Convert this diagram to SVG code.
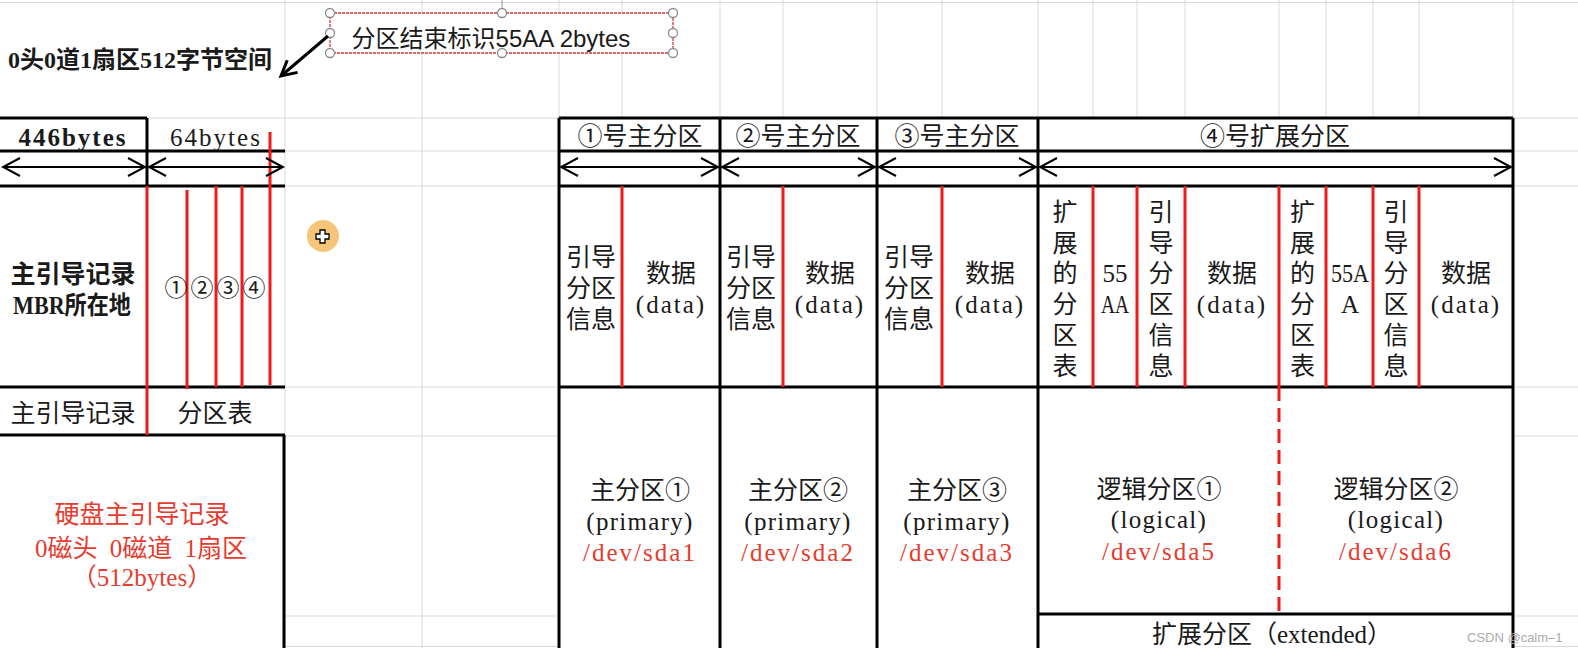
<svg xmlns="http://www.w3.org/2000/svg" width="1578" height="648" viewBox="0 0 1578 648">
<style>
.g{stroke:#d9d9d9;stroke-width:1;fill:none}
.k{stroke:#000;stroke-width:3;fill:none}
.r{stroke:#ee1b1b;stroke-width:3;fill:none}
.a{stroke:#000;stroke-width:2;fill:none}
.t{font-family:'Liberation Serif','Noto Sans CJK SC',serif;font-size:25px;fill:#1a1a1a;text-anchor:middle;dominant-baseline:central}
.red{fill:#e63b2e}
.b{font-weight:bold}
.ls{letter-spacing:2px}
</style>
<defs>
<marker id="ah" viewBox="0 -10 20 20" refX="18" refY="0" markerWidth="20" markerHeight="20" markerUnits="userSpaceOnUse" orient="auto-start-reverse">
<path d="M1,-9 L18,0 L1,9" fill="none" stroke="#000" stroke-width="2"/>
</marker>
<marker id="ah2" viewBox="0 -10 20 20" refX="17" refY="0" markerWidth="20" markerHeight="20" markerUnits="userSpaceOnUse" orient="auto">
<path d="M2,-8 L17,0 L2,8" fill="none" stroke="#000" stroke-width="3"/>
</marker>
</defs>
<rect width="1578" height="648" fill="#fff"/>
<g id="grid">
<path class="g" d="M0,2.5H1578M0,118H1578M0,151H1578M0,186H1578M0,387H1578M0,436H1578M0,616H1578M0,646.5H1578"/>
<path class="g" d="M285,0V648M422,0V648M559,0V648M622,0V648M720,0V648M783,0V648M877,0V648M942,0V648M1038,0V648M1093,0V648M1137,0V648M1185,0V648M1279,0V648M1326,0V648M1373,0V648M1419,0V648M1513,0V648"/>
<rect x="0" y="4" width="284" height="113" fill="#fff"/>
<rect x="0" y="119" width="284" height="529" fill="#fff"/>
<rect x="560" y="119" width="952" height="529" fill="#fff"/>
</g>
<g id="callout">
<line x1="502" y1="0" x2="502" y2="9" stroke="#999" stroke-width="1"/>
<rect x="330" y="13" width="343" height="40" fill="#fff" stroke="#d03a3a" stroke-width="1.3" stroke-dasharray="3 1"/>
<g fill="#fff" stroke="#8c8c8c" stroke-width="1.3">
<circle cx="330" cy="13" r="4.5"/><circle cx="502" cy="13" r="4.5"/><circle cx="673" cy="13" r="4.5"/>
<circle cx="330" cy="33" r="4.5"/><circle cx="673" cy="33" r="4.5"/>
<circle cx="330" cy="53" r="4.5"/><circle cx="502" cy="53" r="4.5"/><circle cx="673" cy="53" r="4.5"/>
</g>
<text x="491" y="38" class="t" style="font-family:'Liberation Sans','Noto Sans CJK SC',sans-serif;font-size:24px">分区结束标识55AA 2bytes</text>
</g>
<g id="title">
<text x="140" y="60" class="t b" style="font-size:24px">0头0道1扇区512字节空间</text>
</g>
<g id="mbr">
<path class="k" d="M0,118H147M0,151H285M0,186H285M0,387H285M0,435H285M147,118V186M284,435V648"/>
<path class="r" d="M147,186V435M187,190V389M216,186V387M242,186V387M270,132V385"/>
<text x="73" y="137" class="t b ls">446bytes</text>
<text x="216" y="137" class="t ls">64bytes</text>
<text x="73" y="274" class="t b">主引导记录</text>
<text x="72" y="305" class="t b" textLength="118" lengthAdjust="spacingAndGlyphs">MBR所在地</text>
<text x="176" y="288" class="t" style="font-size:23px">①</text>
<text x="202" y="288" class="t" style="font-size:23px">②</text>
<text x="228" y="288" class="t" style="font-size:23px">③</text>
<text x="254" y="288" class="t" style="font-size:23px">④</text>
<text x="73" y="413" class="t">主引导记录</text>
<text x="215" y="413" class="t">分区表</text>
<text x="142" y="514" class="t red">硬盘主引导记录</text>
<text x="141" y="548" class="t red" style="word-spacing:6px">0磁头 0磁道 1扇区</text>
<text x="142" y="577" class="t red">（512bytes）</text>
</g>
<g id="cursor">
<circle cx="323" cy="236" r="16" fill="#f7c57a"/>
<path d="M320,230h5v4h4v5h-4v4h-5v-4h-4v-5h4z" fill="#fff" stroke="#000" stroke-width="1.3"/>
</g>
<g id="table-frame">
<path class="k" d="M559,118H1513M559,151H1513M559,186H1513M559,387H1513M1038,614H1513M559,118V648M720,118V648M877,118V648M1038,118V648M1513,118V648"/>
</g>
<g id="primary1">
<path class="r" d="M622,186V387"/>
<text x="640" y="136" class="t">①号主分区</text>
<text x="591" y="257" class="t">引导</text>
<text x="591" y="288" class="t">分区</text>
<text x="591" y="319" class="t">信息</text>
<text x="671" y="273" class="t">数据</text>
<text x="671" y="304" class="t ls">(data)</text>
<text x="640" y="490" class="t">主分区①</text>
<text x="640" y="521" class="t" style="letter-spacing:1.3px">(primary)</text>
<text x="640" y="552" class="t red ls">/dev/sda1</text>
</g>
<g id="primary2">
<path class="r" d="M783,186V387"/>
<text x="798" y="136" class="t">②号主分区</text>
<text x="751" y="257" class="t">引导</text>
<text x="751" y="288" class="t">分区</text>
<text x="751" y="319" class="t">信息</text>
<text x="830" y="273" class="t">数据</text>
<text x="830" y="304" class="t ls">(data)</text>
<text x="798" y="490" class="t">主分区②</text>
<text x="798" y="521" class="t" style="letter-spacing:1.3px">(primary)</text>
<text x="798" y="552" class="t red ls">/dev/sda2</text>
</g>
<g id="primary3">
<path class="r" d="M942,186V387"/>
<text x="957" y="136" class="t">③号主分区</text>
<text x="909" y="257" class="t">引导</text>
<text x="909" y="288" class="t">分区</text>
<text x="909" y="319" class="t">信息</text>
<text x="990" y="273" class="t">数据</text>
<text x="990" y="304" class="t ls">(data)</text>
<text x="957" y="490" class="t">主分区③</text>
<text x="957" y="521" class="t" style="letter-spacing:1.3px">(primary)</text>
<text x="957" y="552" class="t red ls">/dev/sda3</text>
</g>
<g id="extended">
<path class="r" d="M1093,186V387M1137,186V387M1185,186V387M1279,186V387M1326,186V387M1373,186V387M1419,186V387"/>
<path class="r" d="M1279,387V612" stroke-dasharray="14 7"/>
<text x="1275" y="136" class="t">④号扩展分区</text>
<g class="t">
<text x="1065" y="212" class="t">扩</text><text x="1065" y="243" class="t">展</text><text x="1065" y="273.5" class="t">的</text><text x="1065" y="304" class="t">分</text><text x="1065" y="335" class="t">区</text><text x="1065" y="366" class="t">表</text>
<text x="1115" y="273" class="t">55</text><text x="1115" y="304" class="t" textLength="28" lengthAdjust="spacingAndGlyphs">AA</text>
<text x="1161" y="212" class="t">引</text><text x="1161" y="243" class="t">导</text><text x="1161" y="273.5" class="t">分</text><text x="1161" y="304" class="t">区</text><text x="1161" y="335" class="t">信</text><text x="1161" y="366" class="t">息</text>
<text x="1232" y="273" class="t">数据</text><text x="1232" y="304" class="t ls">(data)</text>
<text x="1302.5" y="212" class="t">扩</text><text x="1302.5" y="243" class="t">展</text><text x="1302.5" y="273.5" class="t">的</text><text x="1302.5" y="304" class="t">分</text><text x="1302.5" y="335" class="t">区</text><text x="1302.5" y="366" class="t">表</text>
<text x="1350" y="273" class="t" textLength="38" lengthAdjust="spacingAndGlyphs">55A</text><text x="1350" y="304" class="t">A</text>
<text x="1396" y="212" class="t">引</text><text x="1396" y="243" class="t">导</text><text x="1396" y="273.5" class="t">分</text><text x="1396" y="304" class="t">区</text><text x="1396" y="335" class="t">信</text><text x="1396" y="366" class="t">息</text>
<text x="1466" y="273" class="t">数据</text><text x="1466" y="304" class="t ls">(data)</text>
</g>
<text x="1159" y="489" class="t">逻辑分区①</text>
<text x="1159" y="519" class="t" style="letter-spacing:1.3px">(logical)</text>
<text x="1159" y="551" class="t red ls">/dev/sda5</text>
<text x="1396" y="489" class="t">逻辑分区②</text>
<text x="1396" y="519" class="t" style="letter-spacing:1.3px">(logical)</text>
<text x="1396" y="551" class="t red ls">/dev/sda6</text>
<text x="1272" y="634" class="t">扩展分区（extended）</text>
</g>
<g id="connectors">
<line class="a" x1="3" y1="167" x2="145" y2="167" marker-start="url(#ah)" marker-end="url(#ah)"/>
<line class="a" x1="149" y1="167" x2="283" y2="167" marker-start="url(#ah)" marker-end="url(#ah)"/>
<line class="a" x1="561" y1="167" x2="718" y2="167" marker-start="url(#ah)" marker-end="url(#ah)"/>
<line class="a" x1="722" y1="167" x2="875" y2="167" marker-start="url(#ah)" marker-end="url(#ah)"/>
<line class="a" x1="879" y1="167" x2="1036" y2="167" marker-start="url(#ah)" marker-end="url(#ah)"/>
<line class="a" x1="1040" y1="167" x2="1511" y2="167" marker-start="url(#ah)" marker-end="url(#ah)"/>
<line x1="328" y1="36" x2="281" y2="76" stroke="#000" stroke-width="3" marker-end="url(#ah2)"/>
</g>
<text x="1467" y="637" style="font-family:'Liberation Sans',sans-serif;font-size:13px;fill:#aaa;dominant-baseline:central">CSDN @calm–1</text>
</svg>
